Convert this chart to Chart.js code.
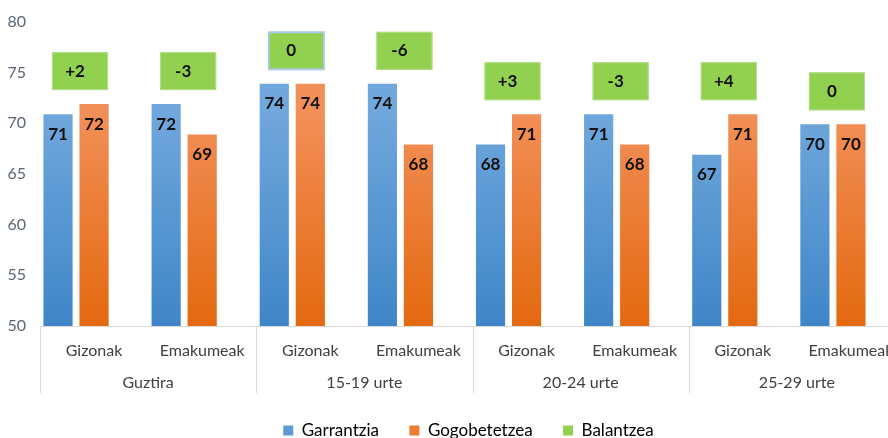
<!DOCTYPE html>
<html>
<head>
<meta charset="utf-8">
<script src="https://cdn.jsdelivr.net/npm/chart.js@4"></script>
<style>
  html, body { margin: 0; padding: 0; background: #fff; overflow: hidden; }
  #wrap { width: 905px; height: 438px; }
</style>
</head>
<body>
<div id="wrap"><canvas id="chart" width="905" height="438"></canvas></div>
<script>
// chart values
const sexes = ['Gizonak', 'Emakumeak', 'Gizonak', 'Emakumeak', 'Gizonak', 'Emakumeak', 'Gizonak', 'Emakumeak'];
const groups = ['Guztira', '15-19 urte', '20-24 urte', '25-29 urte'];
const garrantzia = [71, 72, 74, 74, 68, 71, 67, 70];
const gogobetetzea = [72, 69, 74, 68, 71, 68, 71, 70];
const balantzea = [2, -3, 0, -6, 3, -3, 4, 0];
const yTicks = [50, 55, 60, 65, 70, 75, 80];

const FONT = 'Lato, "Open Sans", sans-serif';

function grad(ctx, area, top, bottom) {
    const g = ctx.createLinearGradient(0, area.top + 90, 0, area.bottom);
    g.addColorStop(0, top);
    g.addColorStop(1, bottom);
    return g;
}

const labelsPlugin = {
    id: 'labels',
    afterLayout(chart) {
        // push the legend down to the bottom edge, a bit right of centre
        const lg = chart.legend;
        if (lg) {
            lg.top += 11;
            lg.bottom += 11;
            lg.left += 16;
            lg.right += 16;
        }
    },
    afterDatasetsDraw(chart) {
        const ctx = chart.ctx;
        const y = chart.scales.y;
        const m0 = chart.getDatasetMeta(0);
        const m1 = chart.getDatasetMeta(1);
        ctx.save();
        ctx.fillStyle = '#111';
        ctx.font = 'bold 17px ' + FONT;
        ctx.textAlign = 'center';
        ctx.textBaseline = 'middle';
        [m0, m1].forEach(m => {
            m.data.forEach((bar, i) => {
                const v = chart.data.datasets[m.index].data[i];
                ctx.fillText(v, bar.x, bar.y + 21);
            });
        });
        // balance boxes
        balantzea.forEach((b, i) => {
            const cx = (m0.data[i].x + m1.data[i].x) / 2 + 4;
            const top = Math.max(garrantzia[i], gogobetetzea[i]);
            const bottom = y.getPixelForValue(top) - 13;
            const w = 56, h = 38;
            ctx.fillStyle = '#92d050';
            ctx.fillRect(cx - w / 2, bottom - h, w, h);
            ctx.strokeStyle = i === 2 ? '#a9cbe8' : '#b4de8c';
            ctx.lineWidth = i === 2 ? 2 : 1;
            ctx.strokeRect(cx - w / 2 + 0.5, bottom - h + 0.5, w - 1, h - 1);
            ctx.fillStyle = '#111';
            const txt = b > 0 ? '+' + b : String(b);
            ctx.fillText(txt, cx - 5, bottom - h / 2);
        });
        ctx.restore();
    },
    afterDraw(chart) {
        // group labels and separators under the x axis
        const ctx = chart.ctx;
        const x = chart.scales.x;
        const area = chart.chartArea;
        const step = x.getPixelForValue(1) - x.getPixelForValue(0);
        ctx.save();
        ctx.strokeStyle = '#d9d9d9';
        ctx.lineWidth = 1;
        for (let g = 0; g <= groups.length; g++) {
            const px = Math.round(x.getPixelForValue(g * 2) - step / 2) + 0.5;
            ctx.beginPath();
            ctx.moveTo(px, area.bottom);
            ctx.lineTo(px, area.bottom + 67);
            ctx.stroke();
        }
        ctx.fillStyle = '#404040';
        ctx.font = '16px ' + FONT;
        ctx.textAlign = 'center';
        ctx.textBaseline = 'middle';
        groups.forEach((name, g) => {
            const cx = (x.getPixelForValue(g * 2) + x.getPixelForValue(g * 2 + 1)) / 2;
            ctx.fillText(name, cx, area.bottom + 57);
        });
        ctx.restore();
    }
};

new Chart(document.getElementById('chart'), {
    type: 'bar',
    data: {
        labels: sexes,
        datasets: [{
            label: 'Garrantzia',
            data: garrantzia,
            backgroundColor: c => c.chart.chartArea ? grad(c.chart.ctx, c.chart.chartArea, '#70a7dc', '#3f86c8') : '#5b9bd5',
            borderColor: 'rgba(255,255,255,0.35)',
            borderWidth: 1
        }, {
            label: 'Gogobetetzea',
            data: gogobetetzea,
            backgroundColor: c => c.chart.chartArea ? grad(c.chart.ctx, c.chart.chartArea, '#f28f58', '#e3690f') : '#ed7d31',
            borderColor: 'rgba(255,255,255,0.35)',
            borderWidth: 1
        }, {
            label: 'Balantzea',
            data: balantzea.map(() => null),
            backgroundColor: '#92d050'
        }]
    },
    options: {
        responsive: false,
        animation: false,
        layout: { padding: { top: 22, left: 0, right: 0, bottom: 0 } },
        datasets: { bar: { categoryPercentage: 1, barPercentage: 0.865 } },
        scales: {
            x: {
                grid: { display: false },
                border: { display: true, color: '#d9d9d9' },
                ticks: { color: '#404040', font: { family: FONT, size: 16 }, padding: 7, maxRotation: 0, autoSkip: false },
                afterFit: s => { s.height = 85; }
            },
            y: {
                min: 50,
                max: 80,
                afterBuildTicks: s => { s.ticks = yTicks.map(v => ({ value: v })); },
                grid: { display: false },
                border: { display: false },
                ticks: { color: '#5b6577', font: { family: FONT, size: 16 }, padding: 6 },
                afterFit: s => { s.width = 40; }
            }
        },
        plugins: {
            legend: {
                position: 'bottom',
                labels: {
                    boxWidth: 10, boxHeight: 10, padding: 0,
                    color: '#333', font: { family: FONT, size: 17 },
                    generateLabels: chart => chart.data.datasets.map((d, i) => ({
                        text: d.label + (i < 2 ? '       ' : ''),
                        fillStyle: ['#5b9bd5', '#ed7d31', '#92d050'][i],
                        strokeStyle: 'transparent',
                        lineWidth: 0,
                        datasetIndex: i
                    }))
                }
            },
            tooltip: { enabled: false }
        }
    },
    plugins: [labelsPlugin]
});
</script>
</body>
</html>
